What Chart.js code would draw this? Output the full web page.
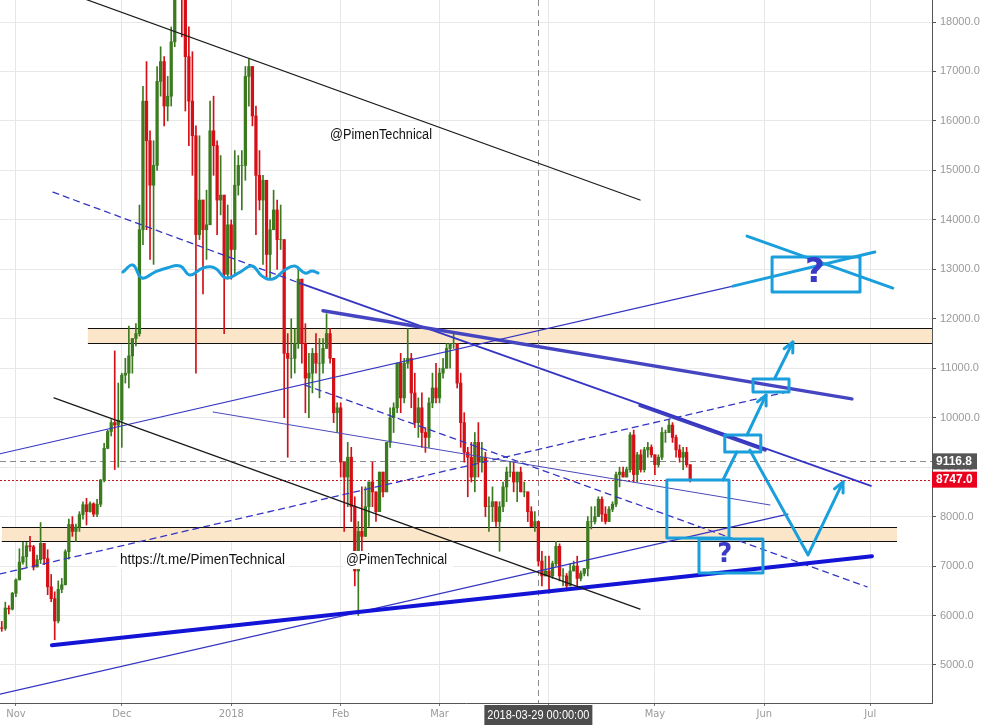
<!DOCTYPE html>
<html>
<head>
<meta charset="utf-8">
<title>BTC daily</title>
<script src="https://cdn.jsdelivr.net/npm/chart.js@4.4.1/dist/chart.umd.min.js"></script>
<style>
  html, body { margin: 0; padding: 0; background: #fff; }
  #wrap { width: 982px; height: 725px; }
</style>
</head>
<body>
<div id="wrap"><canvas id="chart" width="982" height="725"></canvas></div>
<script>
"use strict";

// ---------- candles: 2017-10-28 .. 2018-05-11 (day 0 = 2017-11-01) ----------

const FIRST_DAY = -4;

const opens = [
  5750, 5740, 6150, 6130,
  6450, 6720, 7080, 7190, 7410, 7390, 6980, 7130, 7460, 7150, 6580, 6340, 5890, 6530, 6620,
  7290, 7840, 7700, 7790, 8040, 8240, 8100, 8260, 8050, 8250, 8740, 9380, 9720, 9900, 9850,
  9950, 10860, 10900, 11250, 11600, 11700, 13800, 16400, 15600, 14700, 15100, 16800, 17200, 16300, 16500, 17600,
  19300, 19000, 18900, 17300, 16400, 15700, 13700, 14400, 13800, 13900, 15800, 15500, 14400, 14500, 12900,
  13900, 13400, 14700, 15100, 15100, 16900, 17100, 16100, 14900, 14400, 14800, 13300, 13800, 14200, 13600, 13600,
  11300, 11200, 11200, 11500, 12800, 11500, 10800, 10900, 11300, 11100, 11100, 11400, 11700, 11200, 10100,
  10200, 9100, 8800, 9200, 8200, 6900, 7700, 7600, 8200, 8700, 8500, 8100, 8900, 8500,
  9500, 10000, 10200, 11100, 10400, 11100, 11200, 10500, 9900, 10200, 9700, 9600, 10300, 10600,
  10400, 10900, 11000, 11400, 11500, 11500, 10700, 9900, 9300, 9200, 8800, 9500, 9100, 9200, 8200, 8200,
  8300, 7900, 8200, 8600, 8900, 8900, 8700, 8900, 8500, 8500, 8100, 7800, 7900, 7100, 6800,
  6900, 6800, 7050, 7400, 6800, 6800, 6600, 6900, 7000, 6750, 6850, 6950, 7900, 7900, 8000,
  8350, 8050, 7900, 8150, 8250, 8850, 8900, 8800, 8950, 9650, 8850, 9250, 8950, 9350, 9400,
  9250, 9050, 9200, 9700, 9700, 9850, 9600, 9350, 9200, 9300, 9050,
];

const highs = [
  5880, 6270, 6200, 6470,
  6740, 7350, 7480, 7480, 7600, 7420, 7220, 7880, 7460, 7330, 6830, 6480, 6700, 6750, 7330,
  7950, 8000, 7850, 8100, 8300, 8370, 8300, 8280, 8350, 8750, 9480, 9750, 9960, 11350, 10700,
  10900, 11200, 11850, 11600, 11900, 14300, 16700, 17200, 15800, 15600, 17100, 17500, 17300, 16900, 17900, 19600,
  19900, 19100, 19000, 17900, 17400, 15900, 15700, 14400, 14600, 16400, 16500, 15600, 15300, 14500, 14300,
  14000, 15400, 15300, 15400, 17100, 17250, 17100, 16300, 15400, 14900, 14800, 14000, 14600, 14400, 14300, 13600,
  11700, 12000, 11800, 13000, 12800, 11900, 11300, 11400, 11700, 11600, 11600, 12100, 11800, 11200, 10300,
  10300, 9100, 9500, 9400, 8400, 7900, 8600, 8600, 8700, 9100, 8500, 8900, 8900, 9500,
  10200, 10300, 11100, 11300, 11200, 11800, 11300, 10900, 10400, 10500, 9800, 10400, 10900, 11100,
  11000, 11200, 11500, 11500, 11700, 11500, 10900, 10100, 9400, 9500, 9700, 9900, 9500, 9300, 8400, 8600,
  8300, 8300, 8700, 9000, 9100, 9100, 8900, 9000, 8700, 8500, 8200, 8100, 7900, 7300, 7200,
  7200, 7100, 7500, 7450, 6950, 6850, 7050, 7100, 7200, 6900, 6950, 8000, 8200, 8200, 8400,
  8400, 8200, 8200, 8300, 8900, 9000, 9000, 9000, 9700, 9750, 9300, 9350, 9400, 9500, 9450,
  9250, 9250, 9800, 9750, 9950, 9900, 9650, 9450, 9400, 9400, 9050,
];

const lows = [
  5680, 5700, 6030, 6110,
  6380, 6720, 7040, 6980, 7300, 6920, 6980, 7050, 7030, 6420, 6280, 5510, 5850, 6460, 6620,
  7140, 7600, 7500, 7700, 7950, 7830, 8090, 8000, 8000, 8200, 8700, 9370, 9630, 8950, 9000,
  9400, 10700, 10600, 10900, 11450, 11650, 13500, 13800, 13200, 13100, 15000, 16500, 15900, 16000, 16300, 17500,
  18700, 17700, 16200, 15500, 14900, 10900, 13600, 12500, 13200, 13900, 14900, 13700, 14100, 11700, 12800,
  12800, 12900, 14500, 14200, 14800, 16300, 15900, 13700, 14200, 13100, 12800, 12800, 13800, 13000, 13400, 10000,
  9200, 10800, 10900, 11400, 11100, 10100, 10000, 10500, 10900, 10400, 10900, 11400, 11100, 9900, 9700,
  8800, 7700, 8200, 7900, 6600, 6000, 7200, 7600, 7800, 8200, 7900, 8100, 8400, 8500,
  9400, 9700, 10100, 10100, 10300, 11000, 10200, 9800, 9600, 9400, 9300, 9400, 10200, 10300,
  10300, 10800, 11000, 11000, 11400, 10600, 9400, 9100, 8400, 8700, 8500, 8800, 8900, 8000, 7700, 7900,
  7800, 7300, 8100, 8300, 8800, 8500, 8300, 8500, 8400, 7900, 7800, 7700, 7000, 6600, 6800,
  6450, 6750, 7000, 6700, 6600, 6500, 6600, 6900, 6600, 6700, 6800, 6800, 7750, 7850, 8000,
  7900, 7850, 7900, 8100, 8200, 8600, 8800, 8800, 8900, 8700, 8700, 8900, 8900, 9200, 9200,
  8850, 9000, 9150, 9500, 9700, 9500, 9200, 9100, 8950, 9000, 8700,
];

const closes = [
  5740, 6150, 6130, 6450,
  6720, 7080, 7190, 7410, 7390, 6980, 7130, 7460, 7150, 6580, 6340, 5890, 6530, 6620, 7290,
  7840, 7700, 7790, 8040, 8240, 8100, 8260, 8050, 8250, 8740, 9380, 9720, 9900, 9850, 9950,
  10860, 10900, 11250, 11600, 11700, 13800, 16400, 15600, 14700, 15100, 16800, 17200, 16300, 16500, 17600, 19300,
  19000, 18900, 17300, 16400, 15700, 13700, 14400, 13800, 13900, 15800, 15500, 14400, 14500, 12900, 13900,
  13400, 14700, 15100, 15100, 16900, 17100, 16100, 14900, 14400, 14800, 13300, 13800, 14200, 13600, 13600, 11300,
  11200, 11200, 11500, 12800, 11500, 10800, 10900, 11300, 11100, 11100, 11400, 11700, 11200, 10100, 10200,
  9100, 8800, 9200, 8200, 6900, 7700, 7600, 8200, 8700, 8500, 8100, 8900, 8500, 9500,
  10000, 10200, 11100, 10400, 11100, 11200, 10500, 9900, 10200, 9700, 9600, 10300, 10600, 10400,
  10900, 11000, 11400, 11500, 11500, 10700, 9900, 9300, 9200, 8800, 9500, 9100, 9200, 8200, 8200, 8300,
  7900, 8200, 8600, 8900, 8900, 8700, 8900, 8500, 8500, 8100, 7800, 7900, 7100, 6800, 6900,
  6800, 7050, 7400, 6800, 6800, 6600, 6900, 7000, 6750, 6850, 6950, 7900, 7900, 8000, 8350,
  8050, 7900, 8150, 8250, 8850, 8900, 8800, 8950, 9650, 8850, 9250, 8950, 9350, 9400, 9250,
  9050, 9200, 9700, 9700, 9850, 9600, 9350, 9200, 9300, 9050, 8747,
];

// ---------- axes ----------

const monthDays = [0, 30, 61, 92, 120, 151, 181, 212, 242];
const monthNames = ["Nov", "Dec", "2018", "Feb", "Mar", "Apr", "May", "Jun", "Jul"];
const priceTicks = [5000, 6000, 7000, 8000, 9000, 10000, 11000, 12000, 13000, 14000, 15000, 16000, 17000, 18000];
const lastPrice = 8747.0;
const cursorPrice = 9116.8;
const cursorDay = 148;
const cursorLabel = "2018-03-29 00:00:00";

// ---------- drawn analysis: [day, price] ----------

const blackTop = [[12, 18660], [176.8, 14400]];
const blackBottom = [[10.8, 10400], [176.8, 6130]];
const supportBold = [[10.2, 5400], [242.5, 7200]];
const channelLow = [[-4.5, 4410], [218.7, 8050]];
const channelHigh = [[-4.5, 9270], [203.1, 12660]];
const channelHighExt = [[203.1, 12660], [243.3, 13350]];
const crossOut = [[207.1, 13670], [248.4, 12620]];
const wedgeTop = [[87.0, 12160], [236.8, 10380]];
const fallDashed = [[10.5, 14560], [80.4, 12720]];
const fallSolid = [[80.4, 12720], [242.2, 8620]];
const fallSolidBold = [[176.8, 10250], [212.2, 9350]];
const fallDashed2 = [[81.9, 10660], [241.1, 6580]];
const riseDashed = [[-4.5, 6840], [218.4, 10520]];
const midLine = [[55.8, 10115], [213.6, 8235]];
const squiggle = [
  [30.3, 12945], [33.1, 13087], [35.7, 12824], [39.4, 12945], [42.8, 13026], [46.5, 13067],
  [49.3, 12885], [53.0, 13026], [56.4, 13026], [59.5, 12824], [63.5, 12945], [66.9, 13067],
  [69.7, 12865], [72.8, 12804], [76.2, 12986], [79.0, 13067], [81.9, 12925], [83.9, 12966],
  [85.6, 12925],
];
const pathUp1 = [[200.3, 8740], [204.2, 9306]];
const pathUp2 = [[207.1, 9650], [212.5, 10459]];
const pathUp3 = [[215.0, 10802], [220.1, 11530]];
const pathV = [[207.9, 9347], [224.4, 7224], [234.3, 8700]];

const upperZone = { days: [20.4, 259.5], prices: [11510, 11813] };
const lowerZone = { days: [-3.97, 249.6], prices: [7507, 7790] };

const boxTarget = { days: [214.2, 239.1], prices: [12541, 13249] };
const boxNow = { days: [184.4, 202.0], prices: [7567, 8740] };
const boxDip = { days: [193.5, 211.6], prices: [6860, 7547] };
const boxBreak = { days: [200.8, 211.0], prices: [9306, 9650] };
const boxBreak2 = { days: [208.8, 219.0], prices: [10519, 10782] };

// ---------- helpers ----------

const GREEN = "#3c7a1f";
const RED = "#d50f16";
const CYAN = "#1a9fdc";
const BLUE = "#3535c4";
const SANS = "'Liberation Sans', Arial, sans-serif";
const NARROW = "'DejaVu Sans Condensed', 'Liberation Sans', sans-serif";

const dayOf = (i) => FIRST_DAY + i;
const candleColor = (i) => (closes[i] >= opens[i] ? GREEN : RED);

function seg(points, color, width, extra) {
  return Object.assign({
    type: "line",
    data: points.map(([d, p]) => ({ x: d, y: p })),
    borderColor: color,
    borderWidth: width,
    pointRadius: 0,
    fill: false,
    tension: 0,
    borderCapStyle: "round",
    borderJoinStyle: "round",
    order: 1,
  }, extra || {});
}

function toPx(chart, d, p) {
  return [chart.scales.x.getPixelForValue(d), chart.scales.y.getPixelForValue(p)];
}

function rectOf(chart, box) {
  const [x1, y1] = toPx(chart, box.days[0], box.prices[1]);
  const [x2, y2] = toPx(chart, box.days[1], box.prices[0]);
  return [x1, y1, x2 - x1, y2 - y1];
}

function arrowHead(ctx, chart, pts) {
  const [x1, y1] = toPx(chart, pts[pts.length - 2][0], pts[pts.length - 2][1]);
  const [x2, y2] = toPx(chart, pts[pts.length - 1][0], pts[pts.length - 1][1]);
  const a = Math.atan2(y2 - y1, x2 - x1);
  const s = 11;
  ctx.beginPath();
  ctx.moveTo(x2 - s * Math.cos(a - 0.45), y2 - s * Math.sin(a - 0.45));
  ctx.lineTo(x2, y2);
  ctx.lineTo(x2 - s * Math.cos(a + 0.45), y2 - s * Math.sin(a + 0.45));
  ctx.stroke();
}

function boxedText(ctx, text, x, y, maxW, boxW) {
  ctx.fillStyle = "#fff";
  ctx.fillRect(x - 3, y - 13, boxW, 18);
  ctx.fillStyle = "#111";
  ctx.fillText(text, x, y, maxW);
}

// ---------- overlay plugin ----------

const overlay = {
  id: "overlay",
  beforeDatasetsDraw(chart) {
    const ctx = chart.ctx;
    const area = chart.chartArea;
    ctx.save();
    for (const z of [upperZone, lowerZone]) {
      const [x1, yTop] = toPx(chart, z.days[0], z.prices[1]);
      const [x2, yBot] = toPx(chart, z.days[1], z.prices[0]);
      ctx.fillStyle = "#fbe6c9";
      ctx.fillRect(x1, yTop, x2 - x1, yBot - yTop);
      ctx.strokeStyle = "#111";
      ctx.lineWidth = 1;
      ctx.beginPath();
      ctx.moveTo(x1, Math.round(yTop) + 0.5); ctx.lineTo(x2, Math.round(yTop) + 0.5);
      ctx.moveTo(x1, Math.round(yBot) + 0.5); ctx.lineTo(x2, Math.round(yBot) + 0.5);
      ctx.stroke();
    }
    // cursor cross + last price
    const yc = Math.round(chart.scales.y.getPixelForValue(cursorPrice)) + 0.5;
    const yl = Math.round(chart.scales.y.getPixelForValue(lastPrice)) + 0.5;
    const xc = Math.round(chart.scales.x.getPixelForValue(cursorDay)) + 0.5;
    ctx.lineWidth = 1;
    ctx.strokeStyle = "#8a8a8a";
    ctx.setLineDash([6, 4]);
    ctx.beginPath();
    ctx.moveTo(area.left, yc); ctx.lineTo(area.right, yc);
    ctx.moveTo(xc, area.top); ctx.lineTo(xc, area.bottom);
    ctx.stroke();
    ctx.strokeStyle = "#d0101a";
    ctx.setLineDash([2, 2]);
    ctx.beginPath();
    ctx.moveTo(area.left, yl); ctx.lineTo(area.right, yl);
    ctx.stroke();
    ctx.restore();
  },
  afterDatasetsDraw(chart) {
    const ctx = chart.ctx;
    ctx.save();
    ctx.strokeStyle = CYAN;
    ctx.lineWidth = 3;
    ctx.lineCap = "round";
    ctx.lineJoin = "round";
    for (const b of [boxTarget, boxNow, boxDip, boxBreak, boxBreak2]) {
      ctx.strokeRect(...rectOf(chart, b));
    }
    arrowHead(ctx, chart, pathUp2);
    arrowHead(ctx, chart, pathUp3);
    arrowHead(ctx, chart, pathV);

    ctx.fillStyle = "#3a3ac6";
    ctx.textAlign = "center";
    ctx.textBaseline = "middle";
    ctx.font = "bold 34px 'DejaVu Sans', sans-serif";
    let [qx, qy] = toPx(chart, 226.3, 12925);
    ctx.fillText("?", qx, qy);
    ctx.font = "bold 26px 'DejaVu Sans', sans-serif";
    [qx, qy] = toPx(chart, 200.8, 7224);
    ctx.fillText("?", qx, qy);

    ctx.textAlign = "left";
    ctx.textBaseline = "alphabetic";
    ctx.fillStyle = "#111";
    ctx.font = "14px " + SANS;
    ctx.fillText("@PimenTechnical", 330, 139, 102);
    boxedText(ctx, "https://t.me/PimenTechnical", 120, 564, 165, 172);
    boxedText(ctx, "@PimenTechnical", 346, 564, 101, 110);
    ctx.restore();
  },
  afterDraw(chart) {
    const ctx = chart.ctx;
    const area = chart.chartArea;
    ctx.save();
    ctx.textBaseline = "middle";
    const tag = (value, bg) => {
      const y = chart.scales.y.getPixelForValue(value);
      ctx.fillStyle = bg;
      ctx.fillRect(area.right, y - 8, 45, 16);
      ctx.fillStyle = "#fff";
      ctx.font = "bold 12px " + SANS;
      ctx.textAlign = "left";
      ctx.fillText(value.toFixed(1), area.right + 4, y + 0.5, 40);
    };
    tag(cursorPrice, "#555");
    tag(lastPrice, "#e8001c");
    const xc = chart.scales.x.getPixelForValue(cursorDay);
    ctx.fillStyle = "#4d4d4d";
    ctx.fillRect(xc - 54, area.bottom + 2, 108, 20);
    ctx.fillStyle = "#fff";
    ctx.font = "12px " + SANS;
    ctx.textAlign = "center";
    ctx.fillText(cursorLabel, xc, area.bottom + 12.5, 102);
    ctx.restore();
  },
};

// ---------- chart ----------

const wicks = opens.map((_, i) => ({ x: dayOf(i), y: [lows[i], highs[i]] }));
const bodies = opens.map((o, i) => ({ x: dayOf(i), y: [o, closes[i]] }));

const dashed = { borderDash: [6, 5] };

new Chart(document.getElementById("chart"), {
  type: "bar",
  data: {
    datasets: [
      seg(pathUp1, CYAN, 3, { order: 0 }),
      seg(pathUp2, CYAN, 3, { order: 0 }),
      seg(pathUp3, CYAN, 3, { order: 0 }),
      seg(pathV, CYAN, 3, { order: 0 }),
      seg(squiggle, CYAN, 3, { order: 0, tension: 0.45 }),
      seg(channelHighExt, CYAN, 3, { order: 0 }),
      seg(crossOut, CYAN, 3, { order: 0 }),
      seg(blackTop, "#1a1a1a", 1.2),
      seg(blackBottom, "#1a1a1a", 1.3),
      seg(supportBold, "#1414d6", 4),
      seg(channelLow, BLUE, 1.2),
      seg(channelHigh, BLUE, 1.2),
      seg(wedgeTop, "#4545c2", 3.5),
      seg(fallDashed, BLUE, 1.3, dashed),
      seg(fallSolid, BLUE, 1.8),
      seg(fallSolidBold, "#3f3fbf", 3.5),
      seg(fallDashed2, BLUE, 1.3, dashed),
      seg(riseDashed, BLUE, 1.3, dashed),
      seg(midLine, "#4a4ab8", 1),
      {
        type: "bar",
        data: bodies,
        backgroundColor: bodies.map((_, i) => candleColor(i)),
        barThickness: 2.6,
        grouped: false,
        borderWidth: 0,
        order: 4,
      },
      {
        type: "bar",
        data: wicks,
        backgroundColor: wicks.map((_, i) => candleColor(i)),
        barThickness: 1,
        grouped: false,
        borderWidth: 0,
        order: 5,
      },
    ],
  },
  options: {
    responsive: false,
    animation: false,
    devicePixelRatio: 1,
    events: [],
    layout: { padding: 0 },
    plugins: { legend: { display: false }, tooltip: { enabled: false } },
    scales: {
      x: {
        type: "linear",
        offset: false,
        min: -4.5,
        max: 259.5,
        afterBuildTicks: (s) => { s.ticks = monthDays.map((v) => ({ value: v })); },
        afterFit: (s) => { s.height = 22; s.paddingLeft = 0; s.paddingRight = 0; },
        grid: { color: "#e6e6e6", offset: false, tickLength: 3, tickColor: "#777" },
        border: { color: "#555" },
        ticks: {
          autoSkip: false,
          maxRotation: 0,
          padding: 2,
          color: "#9a9a9a",
          font: { family: NARROW, size: 11 },
          callback: (v) => monthNames[monthDays.indexOf(v)],
        },
      },
      y: {
        type: "linear",
        position: "right",
        min: 4231,
        max: 18445,
        afterBuildTicks: (s) => { s.ticks = priceTicks.map((v) => ({ value: v })); },
        afterFit: (s) => { s.width = 50; s.paddingTop = 0; s.paddingBottom = 0; },
        grid: { color: "#e8e8e8", tickLength: 4, tickColor: "#555" },
        border: { color: "#555" },
        ticks: {
          padding: 4,
          color: "#9a9a9a",
          font: { family: SANS, size: 11 },
          callback: (v) => v.toFixed(1),
        },
      },
    },
  },
  plugins: [overlay],
});
</script>
</body>
</html>
